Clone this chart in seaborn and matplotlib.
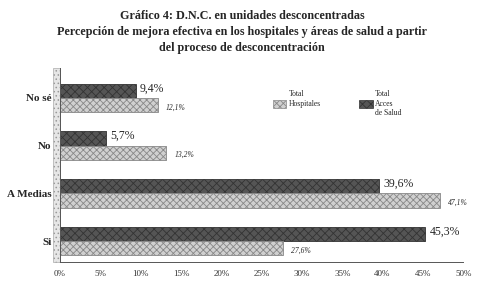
import numpy as np
import pandas as pd
import matplotlib
matplotlib.use("Agg")
import matplotlib.pyplot as plt
import seaborn as sns
from matplotlib.patches import Patch

# data
categorias = ["No sé", "No", "A Medias", "Si"]
areas_salud = [9.4, 5.7, 39.6, 45.3]
hospitales = [12.1, 13.2, 47.1, 27.6]
series = ["Total Areas de Salud", "Total Hospitales"]
ticks = [0, 5, 10, 15, 20, 25, 30, 35, 40, 45, 50]

df = pd.DataFrame({
    "cat": categorias * 2,
    "valor": areas_salud + hospitales,
    "serie": [series[0]] * 4 + [series[1]] * 4,
})

sns.set_style("white")
plt.rcParams["font.family"] = ["Liberation Serif", "DejaVu Serif"]
plt.rcParams["hatch.linewidth"] = 0.6

fig = plt.figure(figsize=(4.84, 3.08), dpi=100)
ax = fig.add_axes([0.124, 0.149, 0.833, 0.63])

colores = {series[0]: "#555555", series[1]: "#d0d0d0"}
sns.barplot(data=df, x="valor", y="cat", hue="serie", hue_order=series,
            order=categorias, palette=colores, orient="h", width=0.6,
            edgecolor="#222222", linewidth=0.6, legend=False, ax=ax)

# hatching like the scanned pattern
for patch in ax.containers[0]:
    patch.set_hatch("xxxx")
    patch.set_edgecolor("#333333")
for patch in ax.containers[1]:
    patch.set_hatch("xxxxx")
    patch.set_edgecolor("#888888")

# value labels
for patch, v in zip(ax.containers[0], areas_salud):
    ax.text(patch.get_width() + 0.5, patch.get_y() + patch.get_height() / 2 - 0.05,
            f"{v:.1f}%".replace(".", ","), va="center", ha="left", fontsize=8.5)
for patch, v in zip(ax.containers[1], hospitales):
    ax.text(patch.get_width() + 1.0, patch.get_y() + patch.get_height() / 2 + 0.05,
            f"{v:.1f}%".replace(".", ","), va="center", ha="left",
            fontsize=5.5, style="italic")

ax.set_xlim(0, 50)
ax.set_ylim(3.44, -0.625)
ax.set_xticks(ticks)
ax.set_xticklabels([f"{t}%" for t in ticks], fontsize=6.5, color="#333333")
ax.set_yticks(range(len(categorias)))
ax.set_yticklabels(categorias, fontsize=8, fontweight="bold")
ax.tick_params(axis="both", length=2, pad=4, color="#555555")
ax.set_xlabel("")
ax.set_ylabel("")
sns.despine(ax=ax, top=True, right=True)
ax.spines["left"].set_color("#555555")
ax.spines["bottom"].set_color("#555555")
ax.spines["left"].set_linewidth(0.7)
ax.spines["bottom"].set_linewidth(0.7)

# 3D-looking wall on the left
ax.axvspan(-0.9, 0.0, color="#e6e6e6", hatch="....", ec="#999999", lw=0.4, clip_on=False)

handles = [Patch(facecolor=colores[series[1]], hatch="xxxxx", edgecolor="#888888", lw=0.5),
           Patch(facecolor=colores[series[0]], hatch="xxxx", edgecolor="#333333", lw=0.5)]
leg = ax.legend(handles, ["Total\nHospitales\n ", "Total\nAcces\nde Salud"],
                loc="upper left", bbox_to_anchor=(0.51, 0.92), ncol=2,
                frameon=False, fontsize=5.5, handlelength=1.8, handleheight=1.3,
                columnspacing=5.0, handletextpad=0.3, labelspacing=0.2)

fig.text(0.5, 0.948, "Gráfico 4: D.N.C. en unidades desconcentradas",
         ha="center", va="center", fontsize=8.7, fontweight="bold")
fig.text(0.5, 0.896, "Percepción de mejora efectiva en los hospitales y áreas de salud a partir",
         ha="center", va="center", fontsize=8.7, fontweight="bold")
fig.text(0.5, 0.844, "del proceso de desconcentración",
         ha="center", va="center", fontsize=8.7, fontweight="bold")

fig.savefig("out.png", dpi=100)
